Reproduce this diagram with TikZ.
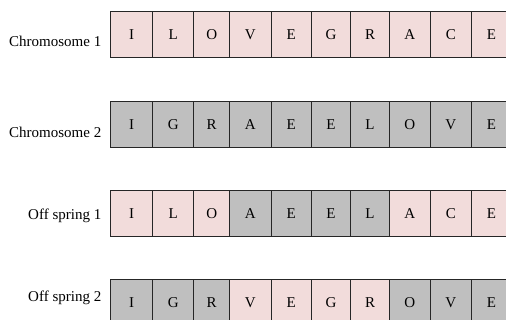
\documentclass[tikz,border=0pt]{standalone}
\usepackage{fontspec}
\setmainfont{Liberation Serif}
\usetikzlibrary{positioning}
\definecolor{rose}{HTML}{F2DCDB}
\definecolor{ash}{HTML}{BFBFBF}
\begin{document}
\begin{tikzpicture}[x=1pt,y=-1pt,font=\fontsize{15}{18}\selectfont,
    gene/.style={draw=black!85,line width=0.8pt,inner sep=0pt,minimum height=46pt,anchor=north west},
    tag/.style={anchor=base east,inner sep=0pt}]
  \clip (0,0) rectangle (506,320);
  % left edges of the ten gene cells
  \def\edges{{110.3,152.3,193.3,229.3,270.7,311,350.3,389,430,470.7,511.5}}
  \foreach \r/\yt/\base/\name/\genes in {
      1/11/46.5/{Chromosome 1}/{I/rose,L/rose,O/rose,V/rose,E/rose,G/rose,R/rose,A/rose,C/rose,E/rose},
      2/101/137.5/{Chromosome 2}/{I/ash,G/ash,R/ash,A/ash,E/ash,E/ash,L/ash,O/ash,V/ash,E/ash},
      3/190/220/{Off spring 1}/{I/rose,L/rose,O/rose,A/ash,E/ash,E/ash,L/ash,A/rose,C/rose,E/rose},
      4/279/301.7/{Off spring 2}/{I/ash,G/ash,R/ash,V/rose,E/rose,G/rose,R/rose,O/ash,V/ash,E/ash}}
  {
    \node[tag] (tag\r) at (101.5,\base) {\name};
    \foreach \g/\c [count=\i] in \genes {
      \pgfmathsetmacro\xl{\edges[\i-1]}
      \pgfmathsetmacro\cellw{\edges[\i]-\xl}
      \node[gene,fill=\c,minimum width=\cellw pt] (g\r-\i) at (\xl,\yt) {\g};
    }
  }
\end{tikzpicture}
\end{document}
